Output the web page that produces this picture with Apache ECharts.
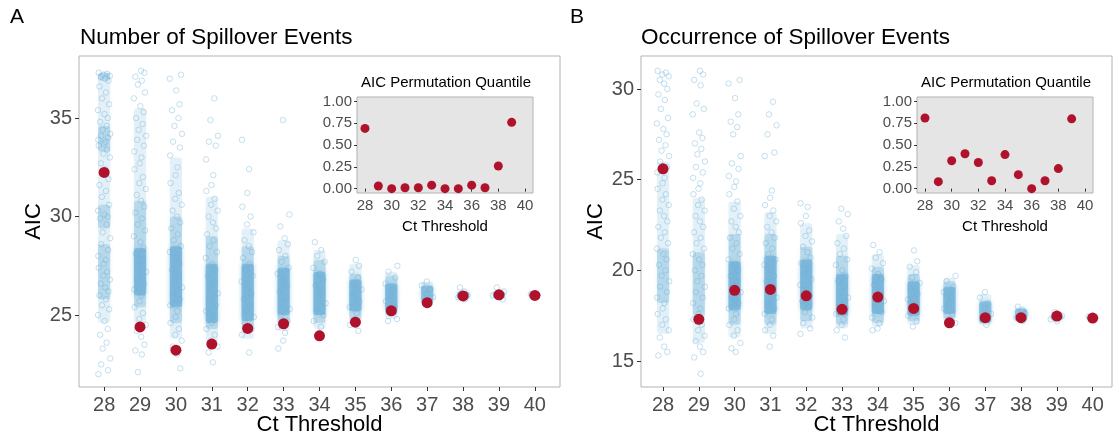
<!DOCTYPE html>
<html><head><meta charset="utf-8">
<script src="https://cdn.jsdelivr.net/npm/echarts@6/dist/echarts.min.js"></script>
<style>html,body{margin:0;padding:0;background:#fff}#c{width:1113px;height:437px}</style>
</head><body><div id="c"></div>
<script>
// ---------- data ----------
const thresholds = [28,29,30,31,32,33,34,35,36,37,38,39,40];
const insetThresholds = [28,29,30,31,32,33,34,35,36,37,38,39];
const xTicksMain = [28,29,30,31,32,33,34,35,36,37,38,39,40];
const xTicksInset = [28,30,32,34,36,38,40];
const yTicksA = [25,30,35];
const yTicksB = [15,20,25,30];
const yTicksInset = [0,0.25,0.5,0.75,1];

// observed AIC (red points)
const observedA = [32.24,24.4,23.22,23.53,24.32,24.56,23.95,24.64,25.22,25.63,25.97,26.03,26.0];
const observedB = [25.6,17.3,18.9,18.95,18.6,17.85,18.53,17.9,17.11,17.39,17.39,17.48,17.37];
// permutation quantile (inset)
const quantileA = [0.69,0.03,0.0,0.01,0.01,0.04,0.0,0.0,0.04,0.01,0.26,0.76];
const quantileB = [0.81,0.08,0.32,0.40,0.30,0.09,0.39,0.16,0.0,0.09,0.23,0.80];

// permuted AIC values (blue points), panel A
const permA28 = [37.3,37.25,37.2,37.15,37.1,37.0,36.9,36.6,36.3,36.0,35.7,35.4,35.2,35.0,34.8,34.6,34.4,34.2,34.1,34.0,33.9,33.8,33.7,33.6,33.4,33.2,33.0,32.7,32.4,31.9,31.6,31.3,31.0,30.6,30.3,30.1,30.0,29.9,29.6,29.2,28.9,28.6,28.3,28.0,27.8,27.6,27.4,27.2,27.0,26.8,26.6,26.4,26.2,26.0,25.8,25.5,25.3,25.0,24.7,24.3,24.0,23.6,23.3,22.8,22.5,22.2,22.0];
const permA29 = [37.4,37.3,37.1,36.9,36.7,36.3,36.0,35.6,35.3,35.0,34.7,34.4,34.1,33.9,33.6,33.3,33.0,32.7,32.4,32.0,31.7,31.4,31.1,30.8,30.5,30.2,29.9,29.6,29.3,29.0,28.7,28.4,28.1,27.8,27.5,27.2,26.9,26.6,26.3,26.0,25.7,25.4,25.1,24.8,24.5,24.2,23.9,23.5,23.2,23.0,22.1];
const permA30 = [37.2,37.0,36.4,35.7,35.4,35.0,34.6,34.2,33.8,33.5,33.1,32.5,32.1,31.7,31.2,30.9,30.6,30.3,30.0,29.7,29.4,29.1,28.8,28.5,28.2,27.9,27.6,27.3,27.0,26.7,26.4,26.1,25.8,25.5,25.2,24.9,24.6,24.3,24.0,23.7,23.4,23.0,22.3];
const permA31 = [36.0,34.9,34.1,33.8,33.6,32.9,32.1,31.6,31.3,30.9,30.6,30.3,30.0,29.7,29.4,29.1,28.8,28.5,28.2,27.9,27.6,27.3,27.0,26.7,26.4,26.1,25.8,25.5,25.2,24.9,24.6,24.3,24.0,23.7,23.4,23.1,22.6];
const permA32 = [33.9,32.4,31.2,30.5,30.0,29.6,29.2,28.8,28.5,28.2,27.9,27.6,27.3,27.0,26.7,26.4,26.1,25.8,25.5,25.2,24.9,24.6,24.3,24.0,23.1];
const permA33 = [34.9,30.1,29.5,28.9,28.6,28.3,28.0,27.7,27.4,27.1,26.8,26.5,26.2,25.9,25.6,25.3,25.0,24.7,24.4,24.1,23.7,23.3];
const permA34 = [28.7,28.3,28.0,27.7,27.4,27.1,26.8,26.5,26.2,25.9,25.6,25.3,25.0,24.7,24.4,24.1];
const permA35 = [27.8,27.5,27.2,26.9,26.6,26.3,26.0,25.7,25.4,25.1,24.8,24.5,24.2];
const permA36 = [27.5,27.2,26.9,26.6,26.3,26.0,25.7,25.4,25.1,24.8,24.7];
const permA37 = [26.7,26.5,26.3,26.1,25.9,25.7,25.6];
const permA38 = [26.4,26.2,26.0,25.9,25.8];
const permA39 = [26.4,26.2,26.0,25.9,25.8];
const permA40 = [26.05,26.0];

// permuted AIC values (blue points), panel B
const permB28 = [31.0,30.9,30.8,30.7,30.5,30.3,30.0,29.7,29.4,28.9,28.4,28.1,27.8,27.5,27.2,26.9,26.6,26.3,26.0,25.7,25.4,25.1,24.8,24.5,24.2,23.9,23.6,23.3,23.0,22.7,22.4,22.1,21.8,21.5,21.2,20.9,20.6,20.3,20.0,19.7,19.4,19.1,18.8,18.5,18.2,17.9,17.6,17.3,17.0,16.7,16.3,15.8,15.5,15.3];
const permB29 = [31.0,30.8,30.5,30.2,29.2,28.9,28.6,27.6,27.3,27.0,26.7,26.4,26.0,25.7,25.4,25.1,24.8,24.5,24.2,23.9,23.6,23.3,23.0,22.7,22.4,22.1,21.8,21.5,21.2,20.9,20.6,20.3,20.0,19.7,19.4,19.1,18.8,18.5,18.2,17.9,17.6,17.3,17.0,16.7,16.4,16.1,15.8,15.5,15.2,14.3];
const permB30 = [30.5,30.3,29.5,28.6,28.2,27.9,27.5,26.3,25.9,25.6,25.2,24.9,24.6,24.2,23.8,23.4,23.0,22.7,22.4,22.1,21.8,21.5,21.2,20.9,20.6,20.3,20.0,19.7,19.4,19.1,18.8,18.5,18.2,17.9,17.6,17.3,17.0,16.7,16.4,16.0,15.7,15.5];
const permB31 = [29.3,28.6,28.0,27.5,26.5,26.3,24.4,24.0,23.6,23.3,23.0,22.7,22.4,22.1,21.8,21.5,21.2,20.9,20.6,20.3,20.0,19.7,19.4,19.1,18.8,18.5,18.2,17.9,17.6,17.3,17.0,16.7,16.4,15.8];
const permB32 = [23.7,23.5,23.0,22.6,22.2,21.9,21.6,21.3,21.0,20.7,20.4,20.1,19.8,19.5,19.2,18.9,18.6,18.3,18.0,17.7,17.4,17.1,16.8,16.5];
const permB33 = [23.4,23.1,22.7,22.3,21.9,21.5,21.2,20.9,20.6,20.3,20.0,19.7,19.4,19.1,18.8,18.5,18.2,17.9,17.6,17.3,17.0,16.7,16.3];
const permB34 = [21.4,21.0,20.7,20.4,20.1,19.8,19.5,19.2,18.9,18.6,18.3,18.0,17.7,17.4,17.1,16.8,16.7];
const permB35 = [21.1,20.5,20.2,19.9,19.6,19.3,19.0,18.7,18.4,18.1,17.8,17.5,17.2,16.9];
const permB36 = [19.7,19.4,19.1,18.8,18.5,18.2,17.9,17.6,17.3,17.1];
const permB37 = [18.8,18.5,18.2,17.9,17.6,17.3,17.0];
const permB38 = [18.0,17.8,17.6,17.4,17.2];
const permB39 = [17.7,17.5,17.3,17.2];
const permB40 = [17.45,17.35];

// ranges where the permuted points overlap: [threshold, low, high]
const lightBandsA = [[28,24.6,37.3],[29,24.6,35.5],[30,23.8,33.0],[31,23.6,31.0],[32,23.8,29.4],[33,24.2,28.8],[34,24.3,28.3],[35,24.5,27.6],[36,24.8,27.2],[37,25.6,26.7]];
const midBandsA = [[28,25.8,28.6],[28,29.4,30.6],[28,33.3,34.6],[28,36.9,37.3],[29,25.4,30.8],[30,24.6,30.0],[31,24.3,29.0],[32,24.2,28.5],[33,24.5,28.0],[34,24.6,27.8],[35,24.8,27.1],[36,25.0,27.0]];
const denseBandsA = [[29,26.0,28.4],[30,25.4,28.5],[31,24.6,27.6],[32,24.7,27.6],[33,25.0,27.4],[34,25.0,27.2],[35,25.2,26.8],[36,25.2,26.6],[37,25.7,26.5],[38,25.8,26.2],[39,25.85,26.2],[40,25.98,26.08]];
const lightBandsB = [[28,16.5,26.0],[29,16.0,24.0],[30,16.3,23.8],[31,16.5,23.2],[32,16.8,22.6],[33,16.8,22.0],[34,16.9,20.9],[35,17.0,20.3],[36,17.2,19.6],[37,17.0,18.7]];
const midBandsB = [[28,18.2,21.2],[29,17.5,21.0],[30,17.0,22.0],[31,17.0,22.0],[32,17.2,21.3],[33,17.0,20.8],[34,17.1,20.2],[35,17.2,19.8],[36,17.3,19.4]];
const denseBandsB = [[30,17.8,20.5],[31,17.6,20.8],[32,17.8,20.6],[33,17.5,19.8],[34,17.6,19.8],[35,17.5,19.4],[36,17.6,19.1],[37,17.1,18.3],[38,17.2,17.9],[39,17.25,17.6],[40,17.33,17.42]];

// fixed horizontal jitter offsets (in threshold units)
const jitter = [-0.15,0.08,-0.02,0.16,-0.09,0.03,0.12,-0.13,0.05,-0.06,0.14,-0.17,0.01,0.10,-0.11,0.07,-0.04,0.17,-0.08,0.11,-0.16,0.04,-0.01];

// ---------- build ----------
const permA = [permA28,permA29,permA30,permA31,permA32,permA33,permA34,permA35,permA36,permA37,permA38,permA39,permA40];
const permB = [permB28,permB29,permB30,permB31,permB32,permB33,permB34,permB35,permB36,permB37,permB38,permB39,permB40];
function cloud(groups){
  const out=[];
  groups.forEach((vals,gi)=>{
    vals.forEach((v,k)=>{ out.push([thresholds[gi]+jitter[(k+gi*5)%jitter.length], v]); });
  });
  return out;
}
const BLUE='107,174,214';
const RED='#B0122C';
const HALF=0.17;
function bandSeries(data, alpha, xi, yi){
  return {type:'custom', xAxisIndex:xi, yAxisIndex:yi, z:2, silent:true, clip:true,
    data:data, encode:{x:0,y:[1,2]},
    renderItem:function(params, api){
      const x=api.value(0), lo=api.value(1), hi=api.value(2);
      const p1=api.coord([x-HALF,hi]), p2=api.coord([x+HALF,lo]);
      return {type:'rect', shape:{x:p1[0],y:p1[1],width:p2[0]-p1[0],height:p2[1]-p1[1],r:3},
        style:{fill:'rgba('+BLUE+','+alpha+')', shadowBlur:4, shadowColor:'rgba('+BLUE+','+alpha+')'}};
    }};
}
const FONT='"Liberation Sans", Arial, sans-serif';
function mainX(gi, min, max){
  return {gridIndex:gi, type:'value', min:min, max:max,
    name:'Ct Threshold', nameLocation:'middle', nameGap:27, nameMoveOverlap:false,
    nameTextStyle:{fontSize:22,color:'#000',fontFamily:FONT},
    axisLine:{show:false}, splitLine:{show:false},
    axisTick:{show:true, length:4, lineStyle:{color:'#333'}, customValues:xTicksMain},
    axisLabel:{customValues:xTicksMain, fontSize:20, color:'#4d4d4d', margin:8, fontFamily:FONT}};
}
function mainY(gi, min, max, ticks){
  return {gridIndex:gi, type:'value', min:min, max:max,
    name:'AIC', nameLocation:'middle', nameGap:34, nameRotate:90,
    nameTextStyle:{fontSize:22,color:'#000',fontFamily:FONT},
    axisLine:{show:false}, splitLine:{show:false},
    axisTick:{show:true, length:4, lineStyle:{color:'#333'}, customValues:ticks},
    axisLabel:{customValues:ticks, fontSize:20, color:'#4d4d4d', margin:7, fontFamily:FONT}};
}
function insetX(gi){
  return {gridIndex:gi, type:'value', min:27.4, max:40.6, z:11,
    name:'Ct Threshold', nameLocation:'middle', nameGap:26,
    nameTextStyle:{fontSize:15,color:'#000',fontFamily:FONT},
    axisLine:{show:false}, splitLine:{show:false},
    axisTick:{show:true, length:3, lineStyle:{color:'#333'}, customValues:xTicksInset},
    axisLabel:{customValues:xTicksInset, fontSize:15, color:'#4d4d4d', margin:5, fontFamily:FONT}};
}
function insetY(gi){
  return {gridIndex:gi, type:'value', min:-0.05, max:1.05, z:11,
    axisLine:{show:false}, splitLine:{show:false},
    axisTick:{show:true, length:3, lineStyle:{color:'#333'}, customValues:yTicksInset},
    axisLabel:{customValues:yTicksInset, fontSize:15, color:'#4d4d4d', margin:5, fontFamily:FONT,
      formatter:v=>Number(v).toFixed(2)}};
}
function cloudSeries(data, xi, yi){
  return {type:'scatter', xAxisIndex:xi, yAxisIndex:yi, z:3, silent:true, symbol:'circle', symbolSize:5.5,
    data:data, itemStyle:{color:'rgba(0,0,0,0)', borderColor:'rgba('+BLUE+',0.5)', borderWidth:1}};
}
function redSeries(xs, ys, xi, yi, size, z){
  return {type:'scatter', xAxisIndex:xi, yAxisIndex:yi, z:z, silent:true, symbolSize:size,
    data:xs.map((x,i)=>[x,ys[i]]), itemStyle:{color:RED, opacity:1}};
}
const G = {outerBoundsMode:'none', containLabel:false, show:true, borderColor:'#b3b3b3', borderWidth:1};
const option = {
  animation:false,
  backgroundColor:'#fff',
  title:[
    {text:'A', left:10, top:7, padding:0, textStyle:{fontSize:21,fontWeight:'normal',color:'#000',fontFamily:FONT}},
    {text:'Number of Spillover Events', left:80, top:26, padding:0, textStyle:{fontSize:22.5,fontWeight:'normal',color:'#000',fontFamily:FONT}},
    {text:'B', left:570, top:7, padding:0, textStyle:{fontSize:21,fontWeight:'normal',color:'#000',fontFamily:FONT}},
    {text:'Occurrence of Spillover Events', left:641, top:26, padding:0, textStyle:{fontSize:22.5,fontWeight:'normal',color:'#000',fontFamily:FONT}}
  ],
  graphic:[
    {type:'text', x:446, y:83, z:20, style:{text:'AIC Permutation Quantile', align:'center', verticalAlign:'middle', fontSize:15, fill:'#000', fontFamily:FONT}},
    {type:'text', x:1006, y:83, z:20, style:{text:'AIC Permutation Quantile', align:'center', verticalAlign:'middle', fontSize:15, fill:'#000', fontFamily:FONT}}
  ],
  grid:[
    Object.assign({left:79, top:56, width:481, height:331, backgroundColor:'#fff', z:0}, G),
    Object.assign({left:357, top:97, width:176, height:96, backgroundColor:'#e5e5e5', z:10}, G),
    Object.assign({left:641, top:56, width:471, height:331, backgroundColor:'#fff', z:0}, G),
    Object.assign({left:917, top:97, width:176, height:96, backgroundColor:'#e5e5e5', z:10}, G)
  ],
  xAxis:[ mainX(0,27.3,40.7), insetX(1), mainX(2,27.385,40.54), insetX(3) ],
  yAxis:[ mainY(0,21.35,38.15,yTicksA), insetY(1), mainY(2,13.57,31.82,yTicksB), insetY(3) ],
  series:[
    bandSeries(lightBandsA,0.16,0,0),
    bandSeries(midBandsA,0.3,0,0),
    bandSeries(denseBandsA,0.65,0,0),
    cloudSeries(cloud(permA),0,0),
    redSeries(thresholds, observedA, 0, 0, 11, 5),
    redSeries(insetThresholds, quantileA, 1, 1, 9, 12),
    bandSeries(lightBandsB,0.16,2,2),
    bandSeries(midBandsB,0.3,2,2),
    bandSeries(denseBandsB,0.65,2,2),
    cloudSeries(cloud(permB),2,2),
    redSeries(thresholds, observedB, 2, 2, 11, 5),
    redSeries(insetThresholds, quantileB, 3, 3, 9, 12)
  ]
};
const chart = echarts.init(document.getElementById('c'), null, {renderer:'canvas'});
chart.setOption(option);
</script></body></html>
